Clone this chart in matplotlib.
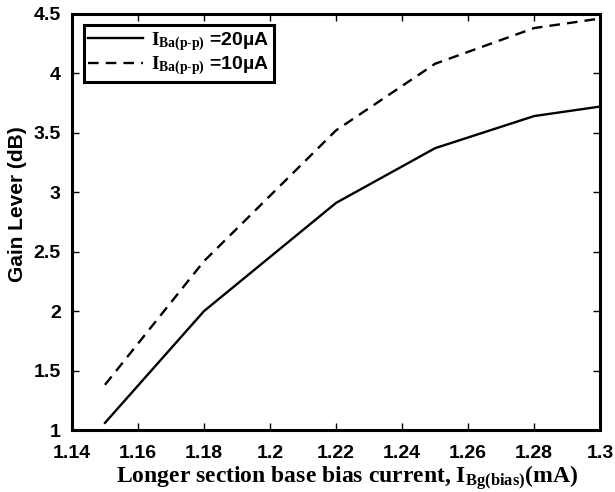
import matplotlib
matplotlib.use('Agg')
import matplotlib.pyplot as plt

plt.rcParams['font.family'] = 'Liberation Sans'
plt.rcParams['mathtext.fontset'] = 'custom'
plt.rcParams['mathtext.rm'] = 'Liberation Serif:bold'
plt.rcParams['mathtext.bf'] = 'Liberation Serif:bold'

# bias current (mA) and gain lever (dB)
bias = [1.15, 1.18, 1.22, 1.25, 1.28, 1.30]
gl_20uA = [1.06, 2.0, 2.91, 3.37, 3.64, 3.72]
gl_10uA = [1.38, 2.42, 3.52, 4.08, 4.38, 4.46]

xticks = [1.14, 1.16, 1.18, 1.2, 1.22, 1.24, 1.26, 1.28, 1.3]
xticklabels = ['1.14', '1.16', '1.18', '1.2', '1.22', '1.24', '1.26', '1.28', '1.3']
yticks = [1, 1.5, 2, 2.5, 3, 3.5, 4, 4.5]
yticklabels = ['1', '1.5', '2', '2.5', '3', '3.5', '4', '4.5']

fig = plt.figure(figsize=(6.15, 4.92), dpi=100)
ax = fig.add_axes([0.117, 0.126, 0.859, 0.846])

ax.plot(bias, gl_20uA, color='black', linewidth=1.7,
        label=r'$\mathbf{I_{Ba(p\text{-}p)}}$ =20µA')
ax.plot(bias, gl_10uA, color='black', linewidth=1.7, dashes=(4.5, 3),
        label=r'$\mathbf{I_{Ba(p\text{-}p)}}$ =10µA')

ax.set_xlim(1.14, 1.3)
ax.set_ylim(1, 4.5)
ax.set_xticks(xticks)
ax.set_xticklabels(xticklabels)
ax.set_yticks(yticks)
ax.set_yticklabels(yticklabels)
ax.tick_params(direction='in', length=5, width=1, top=True, right=True,
               labelsize=14)
ax.tick_params(axis='x', pad=11)
ax.tick_params(axis='y', pad=8)
for lab in ax.get_xticklabels() + ax.get_yticklabels():
    lab.set_fontweight('bold')
for sp in ax.spines.values():
    sp.set_linewidth(2.2)

ax.set_ylabel('Gain Lever (dB)', fontsize=15, fontweight='bold')
ax.yaxis.set_label_coords(-0.085, 0.543)
ax.set_xlabel(r'Longer section base bias current, $\mathbf{I_{Bg(bias)}}$(mA)',
              family='Liberation Serif', fontweight='bold', fontsize=17)
ax.xaxis.set_label_coords(0.52, -0.08)

leg = ax.legend(loc='upper left', frameon=True, fancybox=False,
                borderpad=0.25, handlelength=2.8, labelspacing=0.1,
                handletextpad=0.4, borderaxespad=0.6,
                prop={'weight': 'bold', 'size': 14})
leg.get_frame().set_edgecolor('black')
leg.get_frame().set_linewidth(2.2)
leg.get_frame().set_alpha(1)

plt.savefig('out.png', dpi=100)
